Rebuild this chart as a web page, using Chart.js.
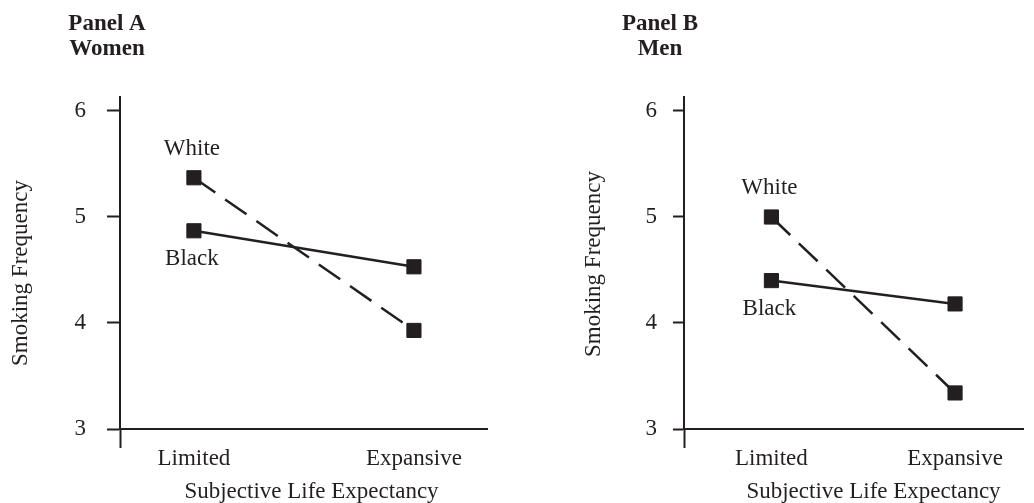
<!DOCTYPE html>
<html>
<head>
<meta charset="utf-8">
<script src="https://cdn.jsdelivr.net/npm/chart.js@4.4.1/dist/chart.umd.min.js"></script>
<style>
  html, body { margin: 0; padding: 0; background: #fff; }
  .wrap { display: flex; width: 1034px; height: 503px; }
  canvas { display: block; }
</style>
</head>
<body>
<div class="wrap">
  <canvas id="panelA" width="517" height="503"></canvas>
  <canvas id="panelB" width="517" height="503"></canvas>
</div>
<script>
// Valori
const categories = ['Limited', 'Expansive'];
const yTicks = [3, 4, 5, 6];
const womenWhite = [5.37, 3.93];
const womenBlack = [4.87, 4.53];
const menWhite = [5.00, 3.34];
const menBlack = [4.40, 4.18];

const INK = '#231f20';
const FAMILY = '"Liberation Serif", "Times New Roman", serif';

// Titoli, etichette delle serie e titoli degli assi
const panelText = {
    id: 'panelText',
    afterDraw(chart, args, opts) {
        const ctx = chart.ctx;
        const area = chart.chartArea;
        ctx.save();
        ctx.fillStyle = INK;
        ctx.textAlign = 'center';
        ctx.textBaseline = 'alphabetic';
        ctx.font = 'bold 23px ' + FAMILY;
        opts.title.forEach((line, i) => ctx.fillText(line, opts.titleX, 30 + i * 25));
        ctx.font = '23px ' + FAMILY;
        ctx.fillText('Subjective Life Expectancy', (area.left + area.right) / 2 + opts.xTitleShift, 498);
        chart.data.datasets.forEach((ds, i) => {
            const pt = chart.getDatasetMeta(i).data[0];
            const dy = i === 0 ? -23 : 34;
            ctx.fillText(ds.label, pt.x - 2, pt.y + dy);
        });
        // titolo asse y, ruotato
        ctx.translate(opts.yTitleX, opts.yTitleY);
        ctx.rotate(-Math.PI / 2);
        ctx.fillText('Smoking Frequency', 0, 0);
        ctx.restore();
    }
};

const toPoints = values => values.map((v, i) => ({ x: i, y: v }));

function makePanel(id, white, black, cfg) {
    const font = { family: FAMILY, size: 23 };
    const marker = {
        pointStyle: 'rect',
        pointRadius: 10,
        pointBackgroundColor: INK,
        pointBorderColor: INK,
        pointBorderWidth: 1
    };
    return new Chart(document.getElementById(id), {
        type: 'line',
        data: {
            datasets: [
                Object.assign({
                    label: 'White',
                    data: toPoints(white),
                    borderColor: INK,
                    borderWidth: 2.5,
                    borderDash: [26, 12]
                }, marker),
                Object.assign({
                    label: 'Black',
                    data: toPoints(black),
                    borderColor: INK,
                    borderWidth: 2.5
                }, marker)
            ]
        },
        options: {
            responsive: false,
            animation: false,
            layout: { padding: { top: 97, right: cfg.padRight, left: 0, bottom: 0 } },
            plugins: {
                legend: { display: false },
                tooltip: { enabled: false },
                panelText: {
                    title: cfg.title, titleX: cfg.titleX, xTitleShift: cfg.xTitleShift,
                    yTitleX: cfg.yTitleX, yTitleY: cfg.yTitleY
                }
            },
            scales: {
                x: {
                    type: 'linear',
                    min: cfg.xMin,
                    max: cfg.xMax,
                    afterBuildTicks: s => { s.ticks = [s.min, 0, 1].map(v => ({ value: v })); },
                    afterFit: s => { s.height = 74; },
                    border: { color: INK, width: 2 },
                    grid: {
                        drawOnChartArea: false,
                        tickLength: 19,
                        tickWidth: 2,
                        tickColor: c => c.index === 0 ? INK : 'rgba(0,0,0,0)'
                    },
                    ticks: {
                        padding: -3,
                        color: INK,
                        font: font,
                        maxRotation: 0,
                        autoSkip: false,
                        callback: v => categories[v] ?? ''
                    }
                },
                y: {
                    min: 3,
                    max: 6.132,
                    afterBuildTicks: s => { s.ticks = yTicks.map(v => ({ value: v })); },
                    afterFit: s => { s.width = cfg.yWidth; },
                    border: { color: INK, width: 2 },
                    grid: { drawOnChartArea: false, tickLength: cfg.tickLen, tickWidth: 2, tickColor: INK },
                    ticks: { padding: cfg.tickPad, color: INK, font: font }
                }
            }
        },
        plugins: [panelText]
    });
}

makePanel('panelA', womenWhite, womenBlack, {
    title: ['Panel A', 'Women'], titleX: 107, xTitleShift: 8,
    xMin: -0.336, xMax: 1.332, padRight: 30,
    yWidth: 120, tickLen: 13, tickPad: 21, yTitleX: 27, yTitleY: 273
});

makePanel('panelB', menWhite, menBlack, {
    title: ['Panel B', 'Men'], titleX: 143, xTitleShift: 20,
    xMin: -0.476, xMax: 1.370, padRight: 1,
    yWidth: 167, tickLen: 11, tickPad: 16, yTitleX: 83, yTitleY: 264
});
</script>
</body>
</html>
